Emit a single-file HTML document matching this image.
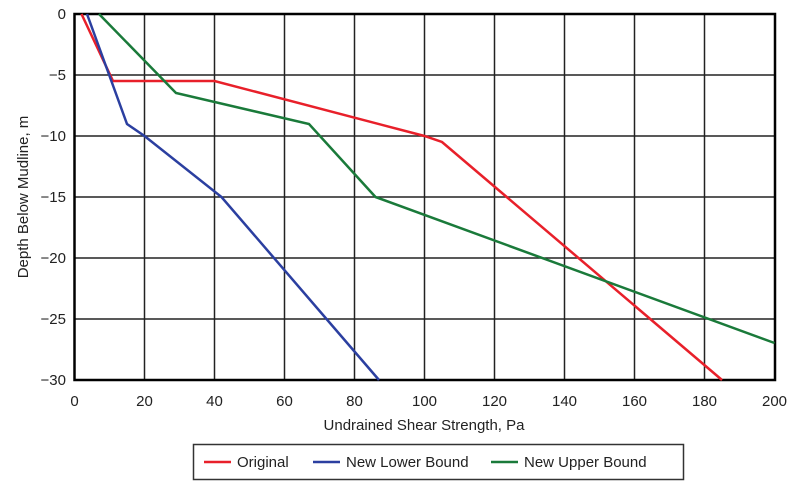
<!DOCTYPE html><html><head><style>body{margin:0;background:#fff}svg{display:block;font-family:"Liberation Sans",sans-serif}</style></head><body>
<svg width="800" height="488" viewBox="0 0 800 488">
<g stroke="#222" stroke-width="1.5">
<line x1="144.5" y1="14" x2="144.5" y2="380"/><line x1="214.5" y1="14" x2="214.5" y2="380"/><line x1="284.5" y1="14" x2="284.5" y2="380"/><line x1="354.5" y1="14" x2="354.5" y2="380"/><line x1="424.5" y1="14" x2="424.5" y2="380"/><line x1="494.5" y1="14" x2="494.5" y2="380"/><line x1="564.5" y1="14" x2="564.5" y2="380"/><line x1="634.5" y1="14" x2="634.5" y2="380"/><line x1="704.5" y1="14" x2="704.5" y2="380"/>
<line x1="74" y1="75" x2="775" y2="75"/><line x1="74" y1="136" x2="775" y2="136"/><line x1="74" y1="197" x2="775" y2="197"/><line x1="74" y1="258" x2="775" y2="258"/><line x1="74" y1="319" x2="775" y2="319"/>
</g>
<rect x="74.5" y="14" width="700.5" height="366" fill="none" stroke="#000" stroke-width="2.5"/>
<g fill="none" stroke-width="2.5">
<polyline stroke="#e8202a" points="81.5,14 113,81 214.5,81 424.5,136 442,142 722,380"/>
<polyline stroke="#2b3fa0" points="87,14 127,124 144.5,136 221.5,197 379,380"/>
<polyline stroke="#1a7a3a" points="99,14 176,93 309,124 375.5,197 774.5,343"/>
</g>
<g font-size="15" fill="#222" text-anchor="end">
<text x="66" y="19">0</text><text x="66" y="80">−5</text><text x="66" y="141">−10</text><text x="66" y="202">−15</text><text x="66" y="263">−20</text><text x="66" y="324">−25</text><text x="66" y="385">−30</text>
</g>
<g font-size="15" fill="#222" text-anchor="middle">
<text x="74.5" y="406">0</text><text x="144.5" y="406">20</text><text x="214.5" y="406">40</text><text x="284.5" y="406">60</text><text x="354.5" y="406">80</text><text x="424.5" y="406">100</text><text x="494.5" y="406">120</text><text x="564.5" y="406">140</text><text x="634.5" y="406">160</text><text x="704.5" y="406">180</text><text x="774.5" y="406">200</text>
<text x="424" y="430">Undrained Shear Strength, Pa</text>
<text transform="translate(28,197) rotate(-90)">Depth Below Mudline, m</text>
</g>
<rect x="193.5" y="444.5" width="490" height="35" fill="#fff" stroke="#333" stroke-width="1.5"/>
<g stroke-width="2.5"><line x1="204" y1="462" x2="231" y2="462" stroke="#e8202a"/><line x1="313" y1="462" x2="340" y2="462" stroke="#2b3fa0"/><line x1="491" y1="462" x2="518" y2="462" stroke="#1a7a3a"/></g>
<g font-size="15" fill="#222"><text x="237" y="467">Original</text><text x="346" y="467">New Lower Bound</text><text x="524" y="467">New Upper Bound</text></g>
</svg></body></html>
